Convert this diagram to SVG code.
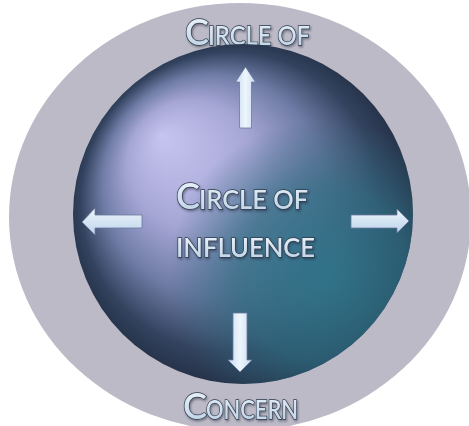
<svg xmlns="http://www.w3.org/2000/svg" width="469" height="426" viewBox="0 0 469 426">
  <defs>
    <!-- lit sphere: light from upper left -->
    <radialGradient id="sphereLight" cx="0.5" cy="0.5" r="0.52" fx="0.26" fy="0.27" gradientUnits="objectBoundingBox">
      <stop offset="0" stop-color="#c6c4f0"/>
      <stop offset="0.35" stop-color="#a7a7d6"/>
      <stop offset="0.62" stop-color="#6f7ca6"/>
      <stop offset="0.85" stop-color="#33435f"/>
      <stop offset="1" stop-color="#232f45"/>
    </radialGradient>
    <!-- teal reflection at lower right -->
    <radialGradient id="sphereTeal" cx="0.74" cy="0.68" r="0.46" gradientUnits="objectBoundingBox">
      <stop offset="0" stop-color="#2f7489" stop-opacity="0.95"/>
      <stop offset="0.55" stop-color="#2d6c80" stop-opacity="0.7"/>
      <stop offset="1" stop-color="#2a6073" stop-opacity="0"/>
    </radialGradient>
    <linearGradient id="textFill" x1="0" y1="0" x2="0" y2="1">
      <stop offset="0" stop-color="#f4f8fc"/>
      <stop offset="1" stop-color="#b9d0e4"/>
    </linearGradient>
    <linearGradient id="arrowFillV" x1="0" y1="0" x2="1" y2="0">
      <stop offset="0" stop-color="#c6dcef"/>
      <stop offset="0.5" stop-color="#eef5fc"/>
      <stop offset="1" stop-color="#c6dcef"/>
    </linearGradient>
    <linearGradient id="arrowFillH" x1="0" y1="0" x2="0" y2="1">
      <stop offset="0" stop-color="#eef5fc"/>
      <stop offset="1" stop-color="#bcd4ea"/>
    </linearGradient>
    <filter id="textShadow" x="-10%" y="-20%" width="120%" height="150%">
      <feDropShadow dx="1" dy="1.5" stdDeviation="1" flood-color="#1a2230" flood-opacity="0.5"/>
    </filter>
  </defs>
  <style>
    .label { font-family: Lato, "Open Sans", "Liberation Sans", sans-serif; font-weight: 600;
             fill: url(#textFill); stroke: #2e3c50; stroke-width: 1.4; paint-order: stroke;
             filter: url(#textShadow); }
    .big { font-size: 36px; }
    .small { font-size: 27px; }
    .arrowV { fill: url(#arrowFillV); stroke: #6b78a0; stroke-width: 0.8; }
    .arrowH { fill: url(#arrowFillH); stroke: #6b78a0; stroke-width: 0.8; }
  </style>

  <!-- outer ring: circle of concern -->
  <g id="concern">
    <ellipse cx="240" cy="217" rx="231" ry="214" fill="#bbbac6"/>
    <text class="label" y="45"><tspan class="big" x="185">C</tspan><tspan class="small" x="208" textLength="102" lengthAdjust="spacingAndGlyphs">IRCLE OF</tspan></text>
    <text class="label" y="419"><tspan class="big" x="183">C</tspan><tspan class="small" x="206" textLength="92" lengthAdjust="spacingAndGlyphs">ONCERN</tspan></text>
  </g>

  <!-- inner sphere: circle of influence -->
  <g id="influence">
    <circle cx="243" cy="214" r="170" fill="url(#sphereLight)"/>
    <circle cx="243" cy="214" r="170" fill="url(#sphereTeal)"/>
    <text class="label" y="209"><tspan class="big" x="176">C</tspan><tspan class="small" x="199" textLength="109" lengthAdjust="spacingAndGlyphs">IRCLE OF</tspan></text>
    <text class="label small" x="176" y="257" textLength="139" lengthAdjust="spacingAndGlyphs">INFLUENCE</text>
  </g>

  <!-- outward arrows -->
  <g id="connectors">
    <path class="arrowV" d="M245.5 67 L255.5 82 L251.5 82 L251.5 128 L239.5 128 L239.5 82 L235.5 82 Z"/>
    <path class="arrowH" d="M82 222 L95 208 L95 215 L142 215 L142 228 L95 228 L95 235 Z"/>
    <path class="arrowH" d="M409 221 L397 209 L397 215 L351 215 L351 228 L397 228 L397 233 Z"/>
    <path class="arrowV" d="M240 372 L252 360 L247 360 L247 313 L233 313 L233 360 L228 360 Z"/>
  </g>
</svg>
